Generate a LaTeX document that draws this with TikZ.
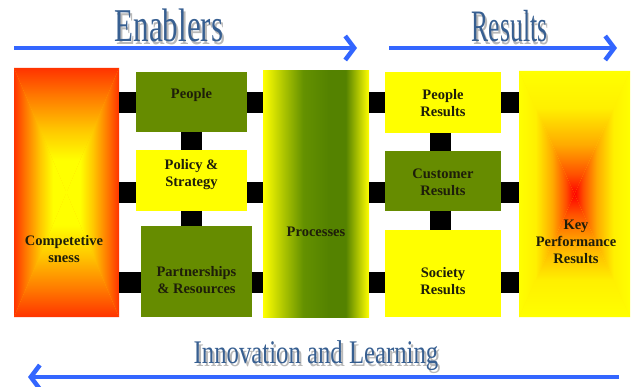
\documentclass[tikz,border=0pt]{standalone}
\usepackage{fontspec}
\usepackage{graphicx}
\setmainfont{Liberation Serif}
\usetikzlibrary{arrows.meta}

\definecolor{boxgreen}{RGB}{102,140,0}
\definecolor{procgreen}{RGB}{84,130,0}
\definecolor{boxyellow}{RGB}{255,255,0}
\definecolor{compred}{RGB}{255,51,0}
\definecolor{kprred}{RGB}{255,0,0}
\definecolor{arrowblue}{RGB}{51,102,255}
\definecolor{titleblue}{RGB}{55,95,145}
\definecolor{shadowgray}{RGB}{185,185,185}
\definecolor{txtdark}{RGB}{30,30,10}

\pgfdeclarehorizontalshading{procshade}{100bp}{color(0bp)=(boxyellow); color(25bp)=(boxyellow); color(35bp)=(rgb,255:red,170;green,195;blue,0); color(44bp)=(rgb,255:red,100;green,145;blue,0); color(56bp)=(procgreen); color(64bp)=(procgreen); color(75bp)=(boxyellow); color(100bp)=(boxyellow)}
% edge (left) to centre (right)
\pgfdeclarehorizontalshading{compshade}{100bp}{color(0bp)=(compred); color(25bp)=(compred); color(36bp)=(rgb,255:red,255;green,120;blue,0); color(50bp)=(rgb,255:red,255;green,200;blue,0); color(62bp)=(boxyellow); color(75bp)=(boxyellow); color(100bp)=(boxyellow)}
\pgfdeclarehorizontalshading{kprshade}{100bp}{color(0bp)=(boxyellow); color(25bp)=(boxyellow); color(40bp)=(rgb,255:red,255;green,240;blue,0); color(55bp)=(rgb,255:red,255;green,170;blue,0); color(67bp)=(rgb,255:red,255;green,80;blue,0); color(75bp)=(kprred); color(100bp)=(kprred)}

% rectangular gradient: node, shading
\newcommand\rectshade[2]{%
	\path[shade, shading=#2, shading angle=0] (#1.north west) -- (#1.center) -- (#1.south west) -- cycle;
	\path[shade, shading=#2, shading angle=180] (#1.north east) -- (#1.center) -- (#1.south east) -- cycle;
	\path[shade, shading=#2, shading angle=-90] (#1.north west) -- (#1.center) -- (#1.north east) -- cycle;
	\path[shade, shading=#2, shading angle=90] (#1.south west) -- (#1.center) -- (#1.south east) -- cycle;
}
% heading text with its grey shadow
\newcommand\shadowed[1]{\rlap{\hspace{3pt}\raisebox{-3pt}{\color{shadowgray}#1}}#1}

\begin{document}
\begin{tikzpicture}[x=1pt, y=-1pt, >={Straight Barb[length=9pt, width=24pt]},
		panel/.style={inner sep=0pt, outer sep=0pt},
		greenbox/.style={panel, fill=boxgreen},
		yellowbox/.style={panel, fill=boxyellow},
		lbl/.style={align=center, inner sep=0pt, text=txtdark, font=\fontsize{14.5}{17}\selectfont\bfseries},
		link/.style={line width=21pt, black},
		flow/.style={->, line width=4.5pt, arrowblue},
		heading/.style={anchor=base, inner sep=0pt, text=titleblue}]
	\useasboundingbox (0,0) rectangle (637,387);

	\node[panel, fill=orange!50!yellow, minimum width=105pt, minimum height=249pt] (comp) at (66.5,192.5) {};
	\rectshade{comp}{compshade}
	\node[greenbox, minimum width=111pt, minimum height=60pt] (people) at (191.5,102) {};
	\node[yellowbox, minimum width=111pt, minimum height=61pt] (policy) at (191.5,180.5) {};
	\node[greenbox, minimum width=111pt, minimum height=91pt] (partner) at (196.5,271.5) {};
	\node[panel, shade, shading=procshade, minimum width=106pt, minimum height=246pt] (proc) at (316,194) {};
	\node[yellowbox, minimum width=116pt, minimum height=61pt] (pres) at (443,102.5) {};
	\node[greenbox, minimum width=116pt, minimum height=60pt] (cres) at (443,181) {};
	\node[yellowbox, minimum width=116pt, minimum height=87pt] (sres) at (443,273.5) {};
	\node[panel, fill=yellow, minimum width=111pt, minimum height=246pt] (kpr) at (574.5,194) {};
	\rectshade{kpr}{kprshade}

	\coordinate (row1) at (316,102.5);
	\coordinate (row2) at (316,193);
	\coordinate (row3) at (316,283);
	\foreach \a/\b/\r in {comp/people/row1, people/proc/row1, comp/policy/row2, policy/proc/row2,
			comp/partner/row3, partner/proc/row3, proc/pres/row1, pres/kpr/row1,
			proc/cres/row2, cres/kpr/row2, proc/sres/row3, sres/kpr/row3}
		\draw[link] (\a.east |- \r) -- (\b.west |- \r);
	\draw[link] (people.south) -- (policy.north);
	\draw[link] (policy.south) -- (partner.north -| policy.south);
	\draw[link] ([xshift=-3pt]pres.south) -- ([xshift=-3pt]cres.north);
	\draw[link] ([xshift=-3pt]cres.south) -- ([xshift=-3pt]sres.north);

	\node[lbl] (compt) at (64,249.5) {Competetive\\sness};
	\node[lbl] (peoplet) at (191.5,95) {People};
	\node[lbl] (policyt) at (191.5,174.5) {Policy \&\\Strategy};
	\node[lbl] (partnert) at (196.5,280.5) {Partnerships\\\& Resources};
	\node[lbl] (proct) at (316,232) {Processes};
	\node[lbl] (prest) at (443,103) {People\\Results};
	\node[lbl] (crest) at (443,182.5) {Customer\\Results};
	\node[lbl] (srest) at (443,281.5) {Society\\Results};
	\node[lbl] (kprt) at (576,242) {Key\\Performance\\Results};

	\node[heading] (enab) at (169,42) {\scalebox{0.66}[1]{\fontsize{47}{47}\selectfont\shadowed{Enablers}}};
	\node[heading] (res) at (509.5,42) {\scalebox{0.57}[1]{\fontsize{45}{45}\selectfont\shadowed{Results}}};
	\node[heading] (inno) at (316,363) {\scalebox{0.75}[1]{\fontsize{33}{33}\selectfont\shadowed{Innovation and Learning}}};

	\coordinate (enabfrom) at (14,48);
	\coordinate (enabto) at (357,48);
	\coordinate (resfrom) at (389,48);
	\coordinate (resto) at (617,48);
	\coordinate (innofrom) at (619,377);
	\coordinate (innoto) at (28,377);
	\draw[flow] (enabfrom) -- (enabto);
	\draw[flow] (resfrom) -- (resto);
	\draw[flow] (innofrom) -- (innoto);
\end{tikzpicture}
\end{document}
